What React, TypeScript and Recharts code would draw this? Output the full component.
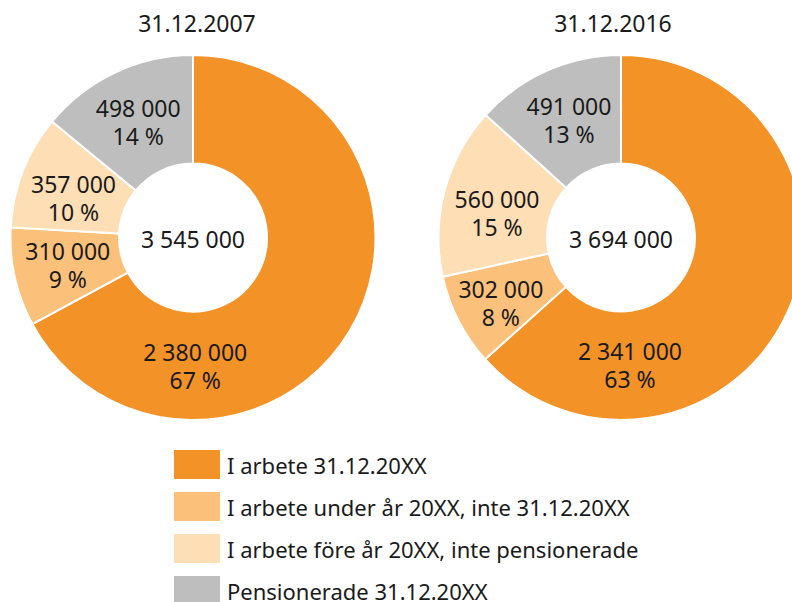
import { PieChart, Pie, Cell } from 'recharts'

const categories = [
  'I arbete 31.12.20XX',
  'I arbete under år 20XX, inte 31.12.20XX',
  'I arbete före år 20XX, inte pensionerade',
  'Pensionerade 31.12.20XX',
]
const values2007 = [2380000, 310000, 357000, 498000]
const values2016 = [2341000, 302000, 560000, 491000]
const titles = ['31.12.2007', '31.12.2016']

const colors = ['#f39226', '#fbc079', '#fddeb5', '#bdbebd']
const font = '"Noto Sans", "Open Sans", sans-serif'
const RADIAN = Math.PI / 180

const fmt = (n: number) => String(n).replace(/\B(?=(\d{3})+(?!\d))/g, ' ')

const toRows = (vals: number[]) => vals.map((v, i) => ({ name: categories[i], value: v }))

// small hand nudges for label placement, per chart and slice
const nudges = [
  [[0, 0], [0, 0], [0, 7], [0, 0]],
  [[0, 0], [-6, 7], [0, 8], [0, 0]],
]

function makeLabel(total: number, bigAngle: number, nudge: number[][]) {
  return (props: any) => {
    const { cx, cy, innerRadius, outerRadius, index, value } = props
    const angle = index === 0 ? bigAngle : props.midAngle
    const r = (innerRadius + outerRadius) / 2
    const x = cx + r * Math.cos(-angle * RADIAN) + nudge[index][0]
    const y = cy + r * Math.sin(-angle * RADIAN) + nudge[index][1]
    const pct = Math.round((value / total) * 100)
    return (
      <text x={x} y={y} textAnchor="middle" fill="#1a1a1a" fontSize={23} fontFamily={font}>
        <tspan x={x} y={y - 14} dominantBaseline="central">{fmt(value)}</tspan>
        <tspan x={x} y={y + 14} dominantBaseline="central">{pct} %</tspan>
      </text>
    )
  }
}

export default function App() {
  const data = [toRows(values2007), toRows(values2016)]
  const totals = [values2007, values2016].map((v) => v.reduce((a, b) => a + b, 0))
  const centers = [193, 621]
  const titleX = [197, 613]
  const bigAngles = [-89, -86]

  return (
    <div style={{ position: 'absolute', left: 0, top: 0, width: 792, height: 602, overflow: 'hidden', background: '#fff', fontFamily: font }}>
      {titles.map((t, i) => (
        <div
          key={t}
          style={{ position: 'absolute', left: titleX[i] - 100, width: 200, top: 7, textAlign: 'center', fontSize: 23, color: '#1a1a1a' }}
        >
          {t}
        </div>
      ))}
      <PieChart width={820} height={440} margin={{ top: 0, right: 0, bottom: 0, left: 0 }} style={{ position: 'absolute', left: 0, top: 0 }}>
        {data.map((rows, k) => (
          <Pie
            key={k}
            data={rows}
            dataKey="value"
            nameKey="name"
            cx={centers[k]}
            cy={237.5}
            innerRadius={74}
            outerRadius={182.5}
            startAngle={90}
            endAngle={-270}
            stroke="#fff"
            strokeWidth={2}
            labelLine={false}
            label={makeLabel(totals[k], bigAngles[k], nudges[k])}
            isAnimationActive={false}
          >
            {rows.map((r, i) => (
              <Cell key={r.name} fill={colors[i]} />
            ))}
          </Pie>
        ))}
      </PieChart>
      {totals.map((t, i) => (
        <div
          key={i}
          style={{ position: 'absolute', left: centers[i] - 70, width: 140, top: 224, textAlign: 'center', fontSize: 23, lineHeight: '30px', color: '#1a1a1a' }}
        >
          {fmt(t)}
        </div>
      ))}
      {categories.map((c, i) => (
        <div key={c} style={{ position: 'absolute', left: 174, top: 450 + i * 42, height: 29, display: 'flex', alignItems: 'center' }}>
          <div style={{ width: 46, height: 29, background: colors[i] }} />
          <span style={{ marginLeft: 7, fontSize: 22, color: '#1a1a1a', whiteSpace: 'nowrap' }}>{c}</span>
        </div>
      ))}
    </div>
  )
}
